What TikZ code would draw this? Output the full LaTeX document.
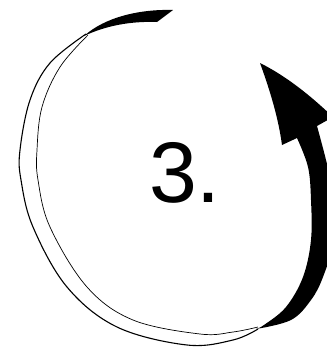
\documentclass[tikz,border=0pt]{standalone}
\usepackage{fontspec}
\setmainfont{Liberation Sans}
\begin{document}
\begin{tikzpicture}[x=1pt,y=-1pt,
  outerline/.style={draw=black,line width=1.1pt},
  innerline/.style={draw=black,line width=0.7pt},
  band/.style={fill=black}]
\useasboundingbox (0,0) rectangle (327,349);
\clip (0,0) rectangle (327,349);
% tail wedge at top
\fill[band] (84,36) .. controls (105,17) and (140,9) .. (173,10) -- (157,22)
  .. controls (130,21) and (105,26) .. (84,36) -- cycle;
% white ribbon: outer and inner outlines
\draw[outerline] plot[smooth,tension=0.6] coordinates {(86,34) (50,63) (30,100) (20,150) (21,180) (33,227) (67,287) (117,327) (187,345) (233,340) (258,329)};
\draw[innerline] plot[smooth,tension=0.6] coordinates {(88,35) (60,67) (42,107) (37,150) (38,180) (50,227) (87,287) (133,320) (200,334) (233,332) (258,327)};
% black band with arrow head
\fill[band] plot[smooth,tension=0.6] coordinates {(256,329) (291,320) (311,300) (323,277) (334,240) (335,200) (326,160) (317,126)}
  -- (333,117) .. controls (315,100) and (290,78) .. (260,63)
  .. controls (268,85) and (278,115) .. (282,145) -- (297,138)
  -- plot[smooth,tension=0.6] coordinates {(297,138) (308,167) (311,200) (311,240) (303,277) (286,307) (264,325) (256,329)} -- cycle;
% label
\node[anchor=base,inner sep=0pt,font=\fontsize{86}{86}\selectfont] (lbl) at (185,202) {3.};
\end{tikzpicture}
\end{document}
